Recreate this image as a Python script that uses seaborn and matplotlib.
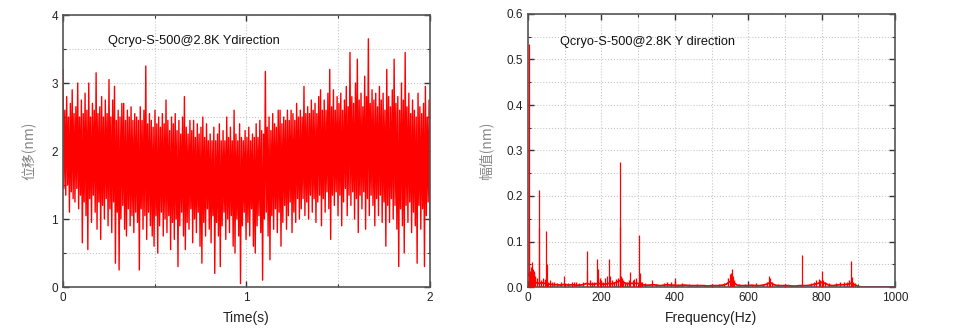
import numpy as np
import pandas as pd
import matplotlib
matplotlib.use("Agg")
import matplotlib.pyplot as plt
import seaborn as sns
from matplotlib.ticker import MultipleLocator, FormatStrFormatter

# ---------------- data: time signal (local peaks / troughs, nm) ----------------
peaks_hi = [
    3.20, 2.60, 2.80, 2.50, 2.70, 2.90, 2.55, 2.65, 3.00, 2.50,
    2.75, 2.55, 2.85, 2.60, 3.00, 2.50, 2.70, 2.60, 3.15, 2.55,
    2.65, 2.80, 2.50, 2.75, 2.55, 3.05, 2.50, 2.75, 2.95, 2.45,
    2.60, 2.50, 2.70, 2.70, 2.45, 2.60, 2.50, 2.65, 2.45, 2.55,
    2.50, 2.45, 2.65, 2.45, 2.60, 3.25, 2.40, 2.55, 2.45, 2.35,
    2.60, 2.40, 2.50, 2.35, 2.55, 2.40, 2.75, 2.45, 2.30, 2.50,
    2.40, 2.55, 2.30, 2.45, 2.25, 2.50, 2.80, 2.35, 2.25, 2.45,
    2.30, 2.45, 2.20, 2.40, 2.25, 2.35, 2.50, 2.20, 2.40, 2.15,
    2.25, 2.15, 2.35, 2.15, 2.25, 2.40, 2.15, 2.30, 2.15, 2.50,
    2.20, 2.35, 2.15, 2.60, 2.25, 2.15, 2.40, 2.20, 2.15, 2.30,
    2.20, 2.35, 2.15, 2.25, 2.20, 2.40, 2.20, 2.45, 2.30, 2.25,
    3.17, 2.35, 2.50, 2.30, 2.55, 2.40, 2.35, 2.60, 2.60, 2.40,
    2.50, 2.45, 2.60, 2.45, 2.60, 2.55, 2.45, 2.70, 2.50, 2.60,
    2.50, 2.95, 2.55, 2.65, 2.55, 2.75, 2.60, 2.70, 2.55, 2.80,
    2.90, 2.60, 2.75, 2.60, 2.85, 3.20, 2.65, 2.90, 2.60, 2.80,
    2.70, 2.85, 2.60, 2.75, 2.95, 2.65, 3.45, 2.80, 2.70, 3.00,
    3.35, 2.75, 2.85, 2.65, 3.10, 2.80, 3.65, 2.70, 2.90, 2.75,
    2.85, 2.65, 2.95, 2.75, 2.85, 2.60, 3.20, 2.80, 2.65, 2.90,
    3.35, 2.70, 2.80, 2.60, 3.00, 2.75, 3.45, 2.65, 2.85, 2.55,
    2.75, 2.60, 2.50, 2.85, 2.65, 2.55, 2.70, 2.95, 2.50, 2.75,
]
troughs_lo = [
    1.45, 1.35, 1.50, 1.10, 1.40, 1.30, 1.25, 1.45, 1.15, 1.35,
    0.65, 1.25, 1.05, 0.55, 1.30, 0.95, 1.35, 1.10, 0.85, 1.25,
    0.70, 1.20, 1.00, 1.30, 0.90, 1.15, 0.80, 1.25, 0.35, 1.10,
    0.25, 1.00, 1.20, 0.85, 0.75, 1.15, 0.90, 1.05, 0.80, 1.10,
    0.95, 0.25, 1.15, 0.85, 1.05, 0.70, 1.10, 0.90, 0.75, 0.60,
    1.05, 0.50, 0.90, 1.10, 0.75, 1.00, 0.80, 1.05, 0.55, 0.95,
    0.70, 1.00, 0.30, 0.90, 1.10, 0.75, 0.55, 0.95, 0.85, 1.15,
    0.65, 1.00, 0.80, 1.10, 0.60, 0.35, 0.95, 0.75, 1.15, 0.85,
    0.65, 1.05, 0.20, 0.95, 0.75, 0.30, 0.90, 1.10, 0.70, 1.00,
    0.80, 1.05, 0.60, 0.50, 1.00, 0.75, 0.05, 0.90, 1.10, 0.70,
    0.95, 0.75, 1.15, 0.60, 0.50, 0.90, 1.05, 0.80, 0.10, 1.00,
    1.10, 0.75, 0.40, 1.05, 0.85, 1.15, 0.80, 1.10, 0.60, 0.95,
    1.20, 0.85, 1.05, 1.25, 0.80, 1.10, 0.95, 1.30, 1.00, 1.15,
    1.30, 1.05, 1.25, 1.00, 1.35, 1.10, 1.30, 0.95, 1.25, 1.35,
    0.90, 1.30, 1.10, 1.40, 1.15, 0.70, 1.35, 1.20, 1.40, 1.05,
    1.35, 0.90, 1.25, 1.45, 1.05, 1.35, 1.20, 1.40, 1.00, 1.30,
    0.80, 1.35, 1.15, 1.40, 0.85, 1.30, 1.05, 1.35, 1.20, 0.90,
    1.30, 1.05, 1.35, 0.95, 1.25, 0.60, 1.20, 0.95, 1.30, 1.00,
    1.20, 0.85, 0.30, 1.15, 0.90, 0.50, 1.20, 0.95, 1.25, 0.80,
    1.10, 0.90, 0.35, 1.20, 0.85, 1.15, 0.30, 1.05, 1.25, 0.50,
]

# ---------------- data: spectrum ----------------
# background amplitude (nm) every 10 Hz from 0 to 1000 Hz
spec_base = [
    0.030, 0.012, 0.010, 0.008, 0.009, 0.007, 0.006, 0.005, 0.005, 0.004,
    0.006, 0.004, 0.005, 0.004, 0.004, 0.005, 0.008, 0.006, 0.006, 0.008,
    0.007, 0.006, 0.008, 0.007, 0.010, 0.014, 0.010, 0.007, 0.008, 0.008,
    0.008, 0.005, 0.004, 0.004, 0.005, 0.004, 0.003, 0.004, 0.005, 0.004,
    0.004, 0.003, 0.004, 0.004, 0.003, 0.003, 0.003, 0.003, 0.003, 0.002,
    0.003, 0.003, 0.003, 0.004, 0.006, 0.012, 0.010, 0.004, 0.003, 0.003,
    0.003, 0.004, 0.003, 0.003, 0.004, 0.006, 0.010, 0.005, 0.003, 0.003,
    0.003, 0.003, 0.002, 0.002, 0.003, 0.003, 0.003, 0.004, 0.006, 0.008,
    0.010, 0.008, 0.004, 0.003, 0.004, 0.005, 0.005, 0.006, 0.008, 0.005,
    0.001, 0.000, 0.000, 0.000, 0.000, 0.000, 0.000, 0.000, 0.000, 0.000,
    0.000,
]
spec_base_freq = list(range(0, 1001, 10))
# main spectral lines
peak_freq = [2.2, 3.5, 5, 10, 13, 17, 30, 30.8, 40, 50, 51, 60, 98, 120, 125,
             160.5, 162, 188, 191, 200, 210, 214, 220, 223, 250, 250.8, 253,
             256, 279, 285, 290, 294, 301.5, 304, 308, 338, 400.5, 500, 550,
             556, 558, 610, 657.5, 660, 700, 747.5, 785, 792, 800, 803, 881, 882]
peak_amp = [0.535, 0.10, 0.035, 0.055, 0.04, 0.035, 0.213, 0.13, 0.02, 0.122,
            0.05, 0.015, 0.025, 0.01, 0.012, 0.08, 0.035, 0.062, 0.04, 0.015,
            0.02, 0.025, 0.062, 0.025, 0.275, 0.132, 0.025, 0.02, 0.033, 0.015,
            0.018, 0.02, 0.115, 0.03, 0.012, 0.015, 0.02, 0.006, 0.028, 0.04,
            0.025, 0.005, 0.025, 0.02, 0.006, 0.07, 0.015, 0.018, 0.035, 0.015,
            0.057, 0.022]
# small noise lines on the floor
small_freq = [7, 15, 20, 24, 35, 45, 55, 65, 70, 80, 90, 110, 130, 140, 150,
              170, 175, 180, 195, 205, 230, 235, 240, 245, 260, 265, 270, 275,
              310, 320, 350, 370, 380, 390, 410, 420, 440, 460, 480, 520, 535,
              545, 552, 562, 575, 590, 620, 640, 650, 665, 680, 720, 770, 780,
              795, 810, 820, 840, 850, 860, 870, 875, 885, 890]
small_amp = [0.045, 0.03, 0.025, 0.02, 0.015, 0.018, 0.012, 0.01, 0.012, 0.008,
             0.01, 0.008, 0.01, 0.008, 0.012, 0.015, 0.012, 0.01, 0.02, 0.012,
             0.015, 0.012, 0.018, 0.02, 0.015, 0.012, 0.01, 0.015, 0.01, 0.008,
             0.006, 0.008, 0.01, 0.012, 0.006, 0.008, 0.007, 0.006, 0.005,
             0.006, 0.008, 0.02, 0.03, 0.015, 0.007, 0.006, 0.008, 0.006, 0.01,
             0.012, 0.006, 0.005, 0.008, 0.012, 0.015, 0.012, 0.008, 0.008,
             0.01, 0.01, 0.012, 0.015, 0.012, 0.008]

title1 = "Qcryo-S-500@2.8K Ydirection"
title2 = "Qcryo-S-500@2.8K Y direction"

# ---------------- style ----------------
sns.set_theme(style="white")
plt.rcParams['font.family'] = ['Liberation Sans', 'Noto Sans CJK SC', 'DejaVu Sans']

RED = '#ff0000'
fig = plt.figure(figsize=(9.58, 3.29), dpi=100)
ax1 = fig.add_axes([63 / 958, 42 / 329, 367 / 958, 272 / 329])
ax2 = fig.add_axes([528 / 958, 42 / 329, 367 / 958, 273 / 329])

# time signal
vals = np.empty(2 * len(peaks_hi))
vals[0::2] = peaks_hi
vals[1::2] = troughs_lo
t = np.linspace(0, 2, len(vals))
df_t = pd.DataFrame({'t': t, 'v': vals})
sns.lineplot(data=df_t, x='t', y='v', ax=ax1, color=RED, lw=1.0,
             estimator=None, sort=False)

# spectrum
df_s = pd.DataFrame({'f': spec_base_freq, 'a': spec_base})
sns.lineplot(data=df_s, x='f', y='a', ax=ax2, color=RED, lw=1.3,
             estimator=None, sort=False)
ax2.vlines(small_freq, 0, small_amp, color=RED, lw=1.0)
ax2.vlines(peak_freq, 0, peak_amp, color=RED, lw=0.9, zorder=3)


def style(ax, xlim, ylim, xmaj, xmin, ymaj, ymin, fmt=None):
    ax.set_xlim(*xlim)
    ax.set_ylim(*ylim)
    ax.xaxis.set_major_locator(MultipleLocator(xmaj))
    ax.xaxis.set_minor_locator(MultipleLocator(xmin))
    ax.yaxis.set_major_locator(MultipleLocator(ymaj))
    ax.yaxis.set_minor_locator(MultipleLocator(ymin))
    if fmt:
        ax.yaxis.set_major_formatter(FormatStrFormatter(fmt))
    ax.set_axisbelow(True)
    ax.grid(which='both', color='#c8c8c8', linestyle=':', linewidth=0.8)
    ax.tick_params(which='both', direction='in', top=True, right=True,
                   bottom=True, left=True, colors='#333333', labelsize=8.5,
                   labelcolor='#222222')
    ax.tick_params(which='major', length=4, width=1)
    ax.tick_params(which='minor', length=2, width=0.8)
    for s in ax.spines.values():
        s.set_color('#555555')
        s.set_linewidth(1.2)
        s.set_visible(True)


style(ax1, (0, 2), (0, 4), 1, 0.5, 1, 0.5)
style(ax2, (0, 1000), (0, 0.6), 200, 100, 0.1, 0.05, '%.1f')

ax1.set_xlabel('Time(s)', fontsize=10, color='#222222', labelpad=5)
ax1.set_ylabel('位移(nm)', fontsize=10, color='#888888', labelpad=11,
               family=['Noto Sans CJK SC', 'DejaVu Sans'])
ax2.set_xlabel('Frequency(Hz)', fontsize=10, color='#222222', labelpad=5)
ax2.set_ylabel('幅值(nm)', fontsize=10, color='#888888', labelpad=10,
               family=['Noto Sans CJK SC', 'DejaVu Sans'])

ax1.text(0.123, 0.905, title1, transform=ax1.transAxes, fontsize=9.2,
         color='#111111', va='center', ha='left')
ax2.text(0.087, 0.898, title2, transform=ax2.transAxes, fontsize=9.2,
         color='#111111', va='center', ha='left')

fig.savefig('out.png', dpi=100)
